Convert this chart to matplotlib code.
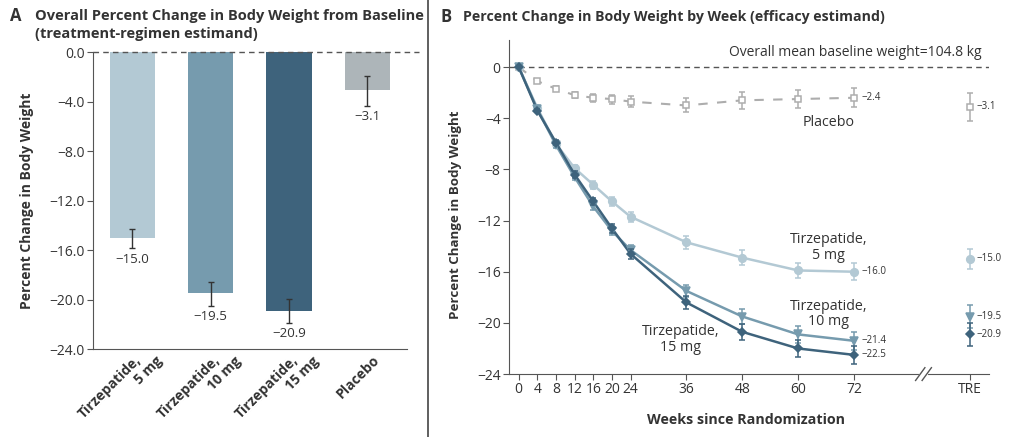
import matplotlib
matplotlib.use("Agg")
import matplotlib.pyplot as plt
import matplotlib.transforms as mtransforms
from matplotlib.lines import Line2D
import numpy as np

plt.rcParams['font.family'] = ['Open Sans', 'DejaVu Sans']
plt.rcParams['axes.unicode_minus'] = True

# ---- Panel A data ----
tick_line1 = ["Tirzepatide,", "Tirzepatide,", "Tirzepatide,", "Placebo"]
tick_line2 = ["5 mg", "10 mg", "15 mg", ""]
bar_values = [-15.0, -19.5, -20.9, -3.1]
bar_err_low = [0.85, 1.0, 1.0, 1.25]
bar_err_high = [0.7, 0.95, 0.95, 1.15]
bar_colors = ["#b3c9d4", "#769bae", "#3e637c", "#adb5b9"]

# ---- Panel B data ----
weeks = [0, 4, 8, 12, 16, 20, 24, 36, 48, 60, 72]
placebo = [0, -1.1, -1.7, -2.2, -2.4, -2.5, -2.7, -3.0, -2.6, -2.5, -2.4]
placebo_err = [0, 0.15, 0.2, 0.25, 0.3, 0.35, 0.4, 0.55, 0.65, 0.7, 0.75]
tirz5 = [0, -3.2, -6.0, -7.9, -9.2, -10.5, -11.7, -13.7, -14.9, -15.9, -16.0]
tirz5_err = [0, 0.15, 0.2, 0.25, 0.3, 0.35, 0.4, 0.5, 0.6, 0.6, 0.65]
tirz10 = [0, -3.3, -6.1, -8.6, -10.9, -12.8, -14.3, -17.5, -19.5, -20.9, -21.4]
tirz10_err = [0, 0.15, 0.2, 0.25, 0.3, 0.35, 0.4, 0.5, 0.6, 0.65, 0.7]
tirz15 = [0, -3.4, -5.9, -8.4, -10.5, -12.6, -14.6, -18.4, -20.7, -22.0, -22.5]
tirz15_err = [0, 0.15, 0.2, 0.25, 0.3, 0.35, 0.4, 0.5, 0.6, 0.65, 0.7]

tre_pos = 96.9
tre_values = [-3.1, -15.0, -19.5, -20.9]
tre_err = [1.1, 0.8, 0.9, 0.9]

end_labels = ["\u22122.4", "\u221216.0", "\u221221.4", "\u221222.5"]
tre_labels = ["\u22123.1", "\u221215.0", "\u221219.5", "\u221220.9"]

c_plac = "#adadad"
c5 = "#b3c9d4"
c10 = "#769bae"
c15 = "#3e637c"
txt = "#333333"
axc = "#555555"

fig = plt.figure(figsize=(10.24, 4.37), dpi=100)

# ================= Panel A =================
axA = fig.add_axes([0.091, 0.201, 0.306, 0.680])
x = np.arange(len(bar_values))
axA.bar(x, bar_values, width=0.58, color=bar_colors, zorder=2)
axA.errorbar(x, bar_values, yerr=[bar_err_low, bar_err_high], fmt="none",
             ecolor="#333333", elinewidth=1.0, capsize=2, capthick=1.0, zorder=3)
for xi, v, e in zip(x, bar_values, bar_err_low):
    axA.text(xi, v - e - 0.35, f"{v:.1f}".replace("-", "\u2212"), ha="center", va="top",
             fontsize=9.5, color=txt)
axA.axhline(0, color="#555555", ls=(0, (4, 3)), lw=1, zorder=4, clip_on=False, xmax=1.04)
axA.set_xlim(-0.5, 3.5)
axA.set_ylim(-24, 0)
yt = np.arange(0, -24.1, -4)
axA.set_yticks(yt)
axA.set_yticklabels([f"{t:.1f}".replace("-", "\u2212") if t != 0 else "0.0" for t in yt],
                    fontsize=10, color=txt)
axA.set_xticks(x)
axA.set_xticklabels([])
axA.tick_params(axis="x", length=0)
axA.tick_params(axis="y", length=4, color=axc, direction="out", pad=2)
for s in ["top", "right"]:
    axA.spines[s].set_visible(False)
axA.spines["left"].set_color(axc)
axA.spines["bottom"].set_color(axc)
axA.set_ylabel("Percent Change in Body Weight", fontsize=10, fontweight="bold", color=txt)
axA.yaxis.set_label_coords(-0.19, 0.5)

# rotated category labels, each line placed on its own
base = mtransforms.blended_transform_factory(axA.transData, axA.transAxes)
for xi, l1, l2 in zip(x, tick_line1, tick_line2):
    dx1 = 5 if not l2 else 2
    t1 = mtransforms.offset_copy(base, fig=fig, x=dx1, y=-4, units="dots")
    axA.text(xi, 0, l1, transform=t1, rotation=45, rotation_mode="anchor",
             ha="right", va="top", fontsize=10, fontweight="bold", color=txt)
    if l2:
        t2 = mtransforms.offset_copy(base, fig=fig, x=23, y=-5, units="dots")
        axA.text(xi, 0, l2, transform=t2, rotation=45, rotation_mode="anchor",
                 ha="right", va="top", fontsize=10, fontweight="bold", color=txt)

fig.text(0.010, 0.963, "A", fontsize=12, fontweight="bold", color=txt, va="center")
fig.text(0.034, 0.963, "Overall Percent Change in Body Weight from Baseline",
         fontsize=10.5, fontweight="bold", color=txt, va="center")
fig.text(0.034, 0.922, "(treatment-regimen estimand)",
         fontsize=10.5, fontweight="bold", color=txt, va="center")

# separator
fig.add_artist(Line2D([0.418, 0.418], [0.0, 1.0], color="#444444", lw=1.2))

# ================= Panel B =================
axB = fig.add_axes([0.497, 0.144, 0.469, 0.764])
axB.axhline(0, color="#555555", ls=(0, (4, 3)), lw=1, zorder=1)

series = [
    (placebo, placebo_err, c_plac, "s", (0, (4.5, 4.5)), 4.5, "white"),
    (tirz5, tirz5_err, c5, "o", "-", 5.5, c5),
    (tirz10, tirz10_err, c10, "v", "-", 5.5, c10),
    (tirz15, tirz15_err, c15, "D", "-", 4, c15),
]
for i, (vals, errs, col, mk, ls, ms, mfc) in enumerate(series):
    axB.plot(weeks, vals, color=col, ls=ls, lw=1.8 if ls == "-" else 1.5, zorder=2 + i)
    axB.errorbar(weeks, vals, yerr=errs, fmt=mk, color=col, mfc=mfc, mec=col, ms=ms,
                 mew=1.1, elinewidth=1.1, capsize=2.5, capthick=1.1, zorder=3 + i)
    axB.text(weeks[-1] + 1.5, vals[-1], end_labels[i], fontsize=7, color=txt, va="center")
    axB.errorbar([tre_pos], [tre_values[i]], yerr=[tre_err[i]], fmt=mk, color=col,
                 mfc=mfc, mec=col, ms=ms, mew=1.1, elinewidth=1.1, capsize=2.5,
                 capthick=1.1, zorder=3 + i)
    axB.text(tre_pos + 1.4, tre_values[i], tre_labels[i], fontsize=7, color=txt,
             va="center")

ann = 10.3
axB.text(66.5, -4.3, "Placebo", fontsize=ann, color=txt, ha="center", va="center")
axB.text(66.5, -14.1, "Tirzepatide,\n5 mg", fontsize=ann, color=txt, ha="center",
         va="center", linespacing=1.05)
axB.text(66.5, -19.3, "Tirzepatide,\n10 mg", fontsize=ann, color=txt, ha="center",
         va="center", linespacing=1.05)
axB.text(34.8, -21.3, "Tirzepatide,\n15 mg", fontsize=ann, color=txt, ha="center",
         va="center", linespacing=1.05)
axB.text(99.3, 1.1, "Overall mean baseline weight=104.8 kg", fontsize=10, color=txt,
         ha="right", va="center")

axB.set_xlim(-2.1, 101)
axB.set_ylim(-24, 2.1)
axB.set_yticks(yt)
axB.set_yticklabels([str(int(t)).replace("-", "\u2212") for t in yt], fontsize=10, color=txt)
axB.set_xticks(weeks + [tre_pos])
axB.set_xticklabels([str(w) for w in weeks] + ["TRE"], fontsize=10, color=txt)
axB.tick_params(axis="both", length=4, color=axc, direction="out", pad=2)
for s in ["top", "right"]:
    axB.spines[s].set_visible(False)
axB.spines["left"].set_color(axc)
axB.spines["bottom"].set_color(axc)

# axis break
bx = 86.9
axB.plot([bx - 0.6, bx + 0.6], [-24, -24], color="white", lw=3, clip_on=False, zorder=10)
for dx in (-0.7, 0.7):
    axB.plot([bx + dx - 1.0, bx + dx + 1.0], [-24.5, -23.5], color=axc, lw=1,
             clip_on=False, zorder=11)

axB.set_ylabel("Percent Change in Body Weight", fontsize=9.6, fontweight="bold", color=txt)
axB.yaxis.set_label_coords(-0.098, 0.476)
axB.set_xlabel("Weeks since Randomization", fontsize=10.3, fontweight="bold", color=txt)
axB.xaxis.set_label_coords(0.494, -0.118)

fig.text(0.430, 0.961, "B", fontsize=12, fontweight="bold", color=txt, va="center")
fig.text(0.452, 0.961, "Percent Change in Body Weight by Week (efficacy estimand)",
         fontsize=10.2, fontweight="bold", color=txt, va="center")

fig.savefig("out.png", dpi=100)
